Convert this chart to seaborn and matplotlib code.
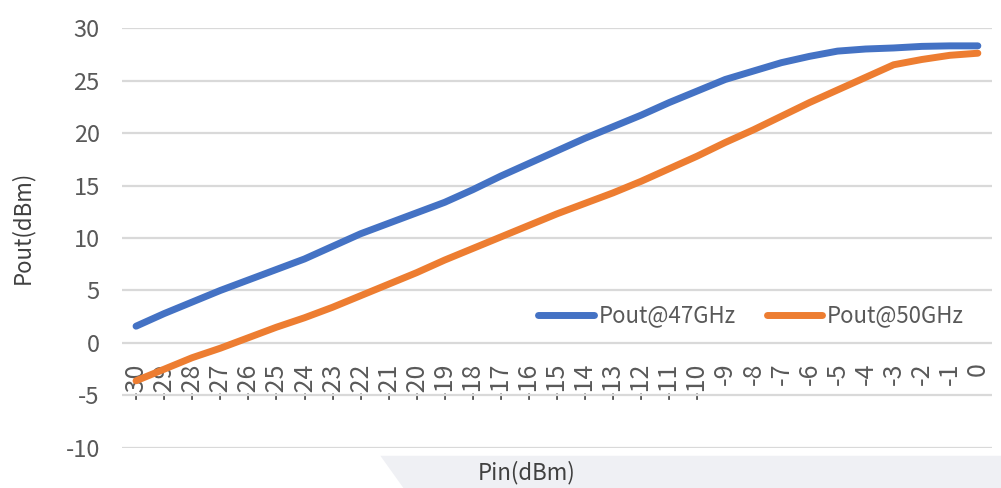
import pandas as pd
import matplotlib.pyplot as plt
from matplotlib.patches import Polygon
import seaborn as sns

# Dữ liệu
pin = list(range(-30, 1))
pout_47 = [1.6, 2.8, 3.9, 5.0, 6.0, 7.0, 8.0, 9.2, 10.4, 11.4, 12.4,
           13.4, 14.6, 15.9, 17.1, 18.3, 19.5, 20.6, 21.7, 22.9, 24.0,
           25.1, 25.9, 26.7, 27.3, 27.8, 28.0, 28.1, 28.25, 28.3, 28.3]
pout_50 = [-3.6, -2.5, -1.4, -0.5, 0.5, 1.5, 2.4, 3.4, 4.5, 5.6, 6.7,
           7.9, 9.0, 10.1, 11.2, 12.3, 13.3, 14.3, 15.4, 16.6, 17.8,
           19.1, 20.3, 21.6, 22.9, 24.1, 25.3, 26.5, 27.0, 27.4, 27.6]
series_names = ["Pout@47GHz", "Pout@50GHz"]
y_ticks = [-10, -5, 0, 5, 10, 15, 20, 25, 30]

df = pd.DataFrame({
    "Pin": pin * 2,
    "Pout": pout_47 + pout_50,
    "Series": [series_names[0]] * len(pin) + [series_names[1]] * len(pin),
})

sns.set_theme(style="white")
plt.rcParams['font.family'] = ['Noto Sans CJK SC', 'DejaVu Sans']
plt.rcParams['axes.unicode_minus'] = False

fig = plt.figure(figsize=(10.01, 4.88), dpi=100)
ax = fig.add_axes([0.1219, 0.082, 0.869, 0.8606])

# nền xám nhạt ở dưới (giống ảnh chụp)
fig.add_artist(Polygon([[0.380, 0.066], [0.403, 0.0], [1.0, 0.0], [1.0, 0.066]],
                       closed=True, transform=fig.transFigure,
                       facecolor="#eff0f4", edgecolor="none", zorder=0))

palette = {series_names[0]: "#4472C4", series_names[1]: "#ED7D31"}
sns.lineplot(data=df, x="Pin", y="Pout", hue="Series", palette=palette,
             linewidth=5, ax=ax, solid_capstyle="round")

# trục x nằm ở y = 0 (đặt trước khi chỉnh nhãn vì set_position reset ticks)
for s in ax.spines.values():
    s.set_visible(False)
ax.spines['bottom'].set_position(('data', 0))

ax.set_xlim(-30.5, 0.5)
ax.set_ylim(-10, 30)
ax.set_yticks(y_ticks)
ax.set_yticklabels([str(v) for v in y_ticks], fontsize=17, color="#595959")
ax.set_xticks(pin)
ax.set_xticklabels([str(v) for v in pin], rotation=90, fontsize=18,
                   color="#595959", va="top", ha="center")
ax.tick_params(axis='x', length=0, pad=14)
ax.tick_params(axis='y', length=0, pad=16)
ax.grid(axis='y', color="#d9d9d9", linewidth=1.6)
ax.set_axisbelow(True)

ax.set_xlabel("Pin(dBm)", fontsize=16, color="#404040")
ax.set_ylabel("Pout(dBm)", fontsize=16, color="#404040")
ax.xaxis.set_label_coords(0.465, -0.030)
ax.yaxis.set_label_coords(-0.101, 0.526)

ax.legend(loc="center", bbox_to_anchor=(0.723, 0.314), ncol=2, frameon=False,
          fontsize=16, handlelength=2.5, handletextpad=0.2, columnspacing=1.4,
          labelcolor="#595959")

plt.savefig("out.png", dpi=100)
